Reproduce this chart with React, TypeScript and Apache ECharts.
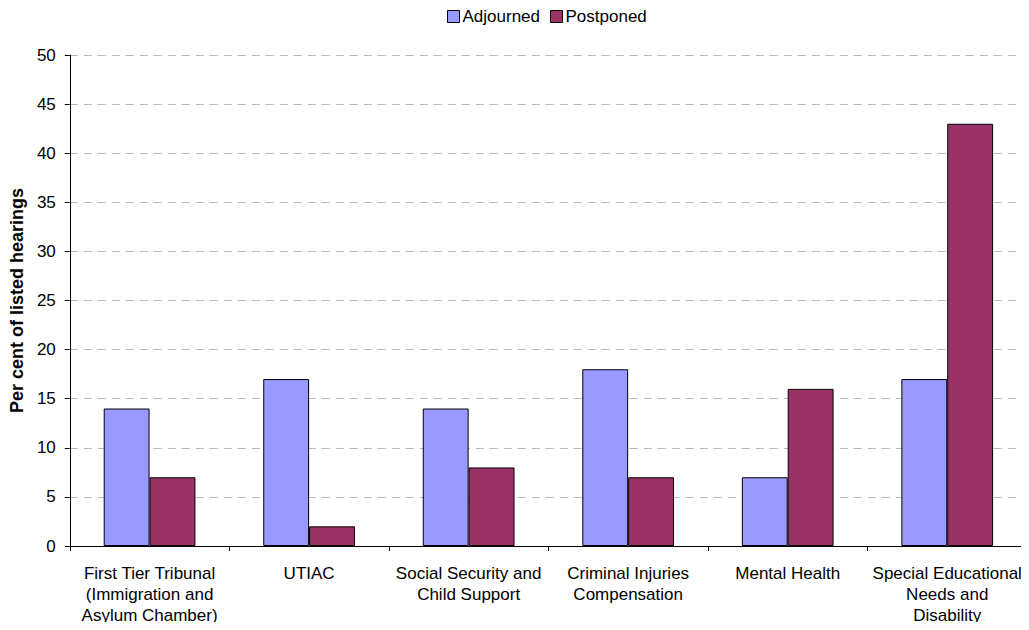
import React, { useEffect, useRef } from "react";
import * as echarts from "echarts";

const categories = [
  "First Tier Tribunal\n(Immigration and\nAsylum Chamber)",
  "UTIAC",
  "Social Security and\nChild Support",
  "Criminal Injuries\nCompensation",
  "Mental Health",
  "Special Educational\nNeeds and\nDisability",
];
const adjourned = [14, 17, 14, 18, 7, 17];
const postponed = [7, 2, 8, 7, 16, 43];

export default function App() {
  const ref = useRef<HTMLDivElement>(null);
  useEffect(() => {
    if (!ref.current) return;
    const chart = echarts.init(ref.current, null, { renderer: "svg" });
    const font = "'Liberation Sans', Arial, sans-serif";
    chart.setOption({
      animation: false,
      textStyle: { fontFamily: font },
      legend: {
        top: 8,
        left: 447,
        padding: 0,
        itemWidth: 12,
        itemHeight: 12,
        itemGap: 10,
        icon: "rect",
        textStyle: { fontSize: 17, color: "#000", fontFamily: font, padding: [0, 0, 0, -2] },
        data: [
          { name: "Adjourned", itemStyle: { borderColor: "#000", borderWidth: 1 } },
          { name: "Postponed", itemStyle: { borderColor: "#000", borderWidth: 1 } },
        ],
      },
      grid: { left: 68, right: 2, top: 55, bottom: 84, containLabel: false },
      xAxis: {
        type: "category",
        data: categories,
        axisLine: { lineStyle: { color: "#000", width: 1 } },
        axisTick: { show: true, length: 5, alignWithLabel: false, lineStyle: { color: "#000" } },
        axisLabel: {
          interval: 0,
          fontSize: 17,
          color: "#000",
          fontFamily: font,
          lineHeight: 21,
          margin: 17,
        },
      },
      yAxis: {
        type: "value",
        min: 0,
        max: 50,
        interval: 5,
        name: "Per cent of listed hearings",
        nameLocation: "middle",
        nameGap: 41,
        nameTextStyle: { fontSize: 18, fontWeight: "bold", color: "#000", fontFamily: font },
        axisLine: { show: true, lineStyle: { color: "#000", width: 1 } },
        axisTick: { show: true, length: 5, lineStyle: { color: "#000" } },
        axisLabel: { fontSize: 17, color: "#000", fontFamily: font, margin: 14 },
        splitLine: { show: true, lineStyle: { color: "#bbb", type: [8, 6] } },
      },
      series: [
        {
          name: "Adjourned",
          type: "bar",
          data: adjourned,
          barGap: "0%",
          barCategoryGap: "42.5%",
          itemStyle: { color: "#9999FF", borderColor: "#000", borderWidth: 1 },
        },
        {
          name: "Postponed",
          type: "bar",
          data: postponed,
          barGap: "0%",
          barCategoryGap: "42.5%",
          itemStyle: { color: "#993366", borderColor: "#000", borderWidth: 1 },
        },
      ],
    });
    return () => chart.dispose();
  }, []);
  return <div ref={ref} style={{ width: 1029, height: 630, margin: -8 }} />;
}
